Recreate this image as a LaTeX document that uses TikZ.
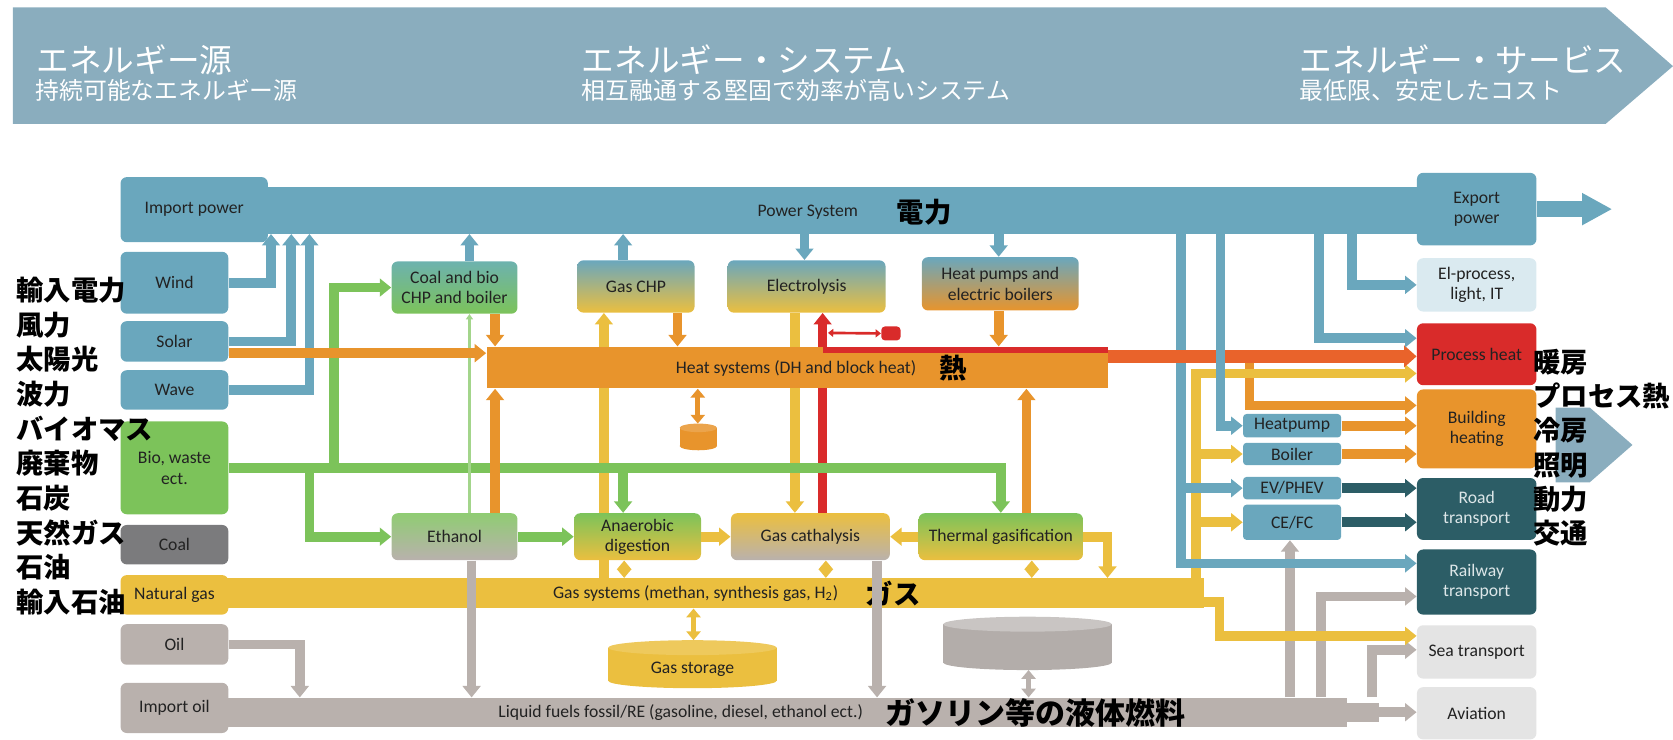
\documentclass[tikz,border=0pt]{standalone}
\usepackage{fontspec}
\setmainfont{Carlito}
\newfontfamily\jp{Noto Sans CJK JP}
\usetikzlibrary{arrows.meta}
\pgfdeclarelayer{bg}
\pgfsetlayers{bg,main}
\newcommand{\unitpx}{0.6048pt}
\definecolor{banner}{HTML}{8AADBE}
\definecolor{pblue}{HTML}{6AA7BD}
\definecolor{lblue}{HTML}{DAEAF0}
\definecolor{horange}{HTML}{E8942C}
\definecolor{gyellow}{HTML}{EBBF3F}
\definecolor{lgrey}{HTML}{B9B1AD}
\definecolor{coalgrey}{HTML}{7B7B7D}
\definecolor{bgreen}{HTML}{7CC35A}
\definecolor{hred}{HTML}{D92B2A}
\definecolor{rorange}{HTML}{E9632B}
\definecolor{dteal}{HTML}{2C5D66}
\definecolor{tealtxt}{HTML}{DCE6E8}
\definecolor{pale}{HTML}{E4E4E4}
\definecolor{txt}{HTML}{222222}
\definecolor{tealtop}{HTML}{6DB2AE}
\definecolor{ostgrey}{HTML}{B3ADAA}
\definecolor{osttop}{HTML}{C9C5C3}
\tikzset{
  lbl/.style={font=\fontsize{10}{11.5}\selectfont, text=txt, inner sep=0pt},
  jlbl/.style={font=\jp\bfseries\fontsize{15.5}{17}\selectfont, text=black, inner sep=0pt},
  btitle/.style={font=\jp\fontsize{18.5}{20}\selectfont, text=white, inner sep=0pt, anchor=west},
  bsub/.style={font=\jp\fontsize{13.5}{15}\selectfont, text=white, inner sep=0pt, anchor=west},
  bx/.style 2 args={minimum width=#1*\unitpx, minimum height=#2*\unitpx},
  box/.style={rounded corners=3.5pt, inner sep=0pt, align=center, font=\fontsize{10}{11.5}\selectfont, text=txt},
  sbox/.style={box, fill=pblue, rounded corners=2pt},
  sysbar/.style={inner sep=0pt},
  conn/.style={line width=5.5pt, -{Triangle[width=10pt,length=6.5pt]}},
  dbl/.style={line width=3pt, {Triangle[width=8pt,length=5pt]}-{Triangle[width=8pt,length=5pt]}},
  parr/.style={conn, draw=pblue},
  harr/.style={conn, draw=horange},
  garr/.style={conn, draw=gyellow},
  barr/.style={conn, draw=bgreen},
  larr/.style={conn, draw=lgrey},
  tarr/.style={conn, draw=dteal},
  rarr/.style={conn, draw=hred}
}

\begin{document}
\begin{tikzpicture}[x=0.6048pt, y=-0.6048pt]
  \useasboundingbox (0,0) rectangle (1568,693);

  % banner
  \fill[banner] (12,7) -- (1505,7) -- (1568,62) -- (1505,116) -- (12,116) -- cycle;
  \node[btitle] (src) at (34,56) {エネルギー源};
  \node[bsub] (srcsub) at (33,85) {持続可能なエネルギー源};
  \node[btitle] (sys) at (545,56) {エネルギー・システム};
  \node[bsub] (syssub) at (545,85) {相互融通する堅固で効率が高いシステム};
  \node[btitle] (srv) at (1218,56) {エネルギー・サービス};
  \node[bsub] (srvsub) at (1218,85) {最低限、安定したコスト};
  \fill[banner] (1458,382) -- (1490,382) -- (1530,417) -- (1490,452) -- (1458,452) -- cycle;

  % system bars
  \node[sysbar, fill=pblue, bx={1180}{44}] (pbar) at (830,197) {};
  \node[sysbar, fill=horange, bx={582}{39}] (hbar) at (747,344.5) {};
  \node[sysbar, fill=gyellow, bx={978}{28}] (gbar) at (639,556) {};
  \node[sysbar, fill=lgrey, bx={1112}{27}] (lbar) at (706,667.5) {};
  \fill[lgrey] (1262,659) rectangle (1292,677);
  \node[lbl] (pwrtxt) at (757,199) {Power System};
  \node[jlbl] (pwrjp) at (866,199) {電力};
  \node[lbl] (heattxt) at (746,345) {Heat systems (DH and block heat)};
  \node[jlbl] (heatjp) at (893,345) {熱};
  \node[lbl] (gastxt) at (652,556) {Gas systems (methan, synthesis gas, H\textsubscript{2})};
  \node[jlbl] (gasjp) at (837,556) {ガス};
  \node[lbl] (liqtxt) at (638,668) {Liquid fuels fossil/RE (gasoline, diesel, ethanol ect.)};
  \node[jlbl, font=\jp\bfseries\fontsize{17}{19}\selectfont, anchor=west] (liqjp) at (830,668) {ガソリン等の液体燃料};

  % sources
  \node[box, fill=pblue, bx={138}{61}] (imp) at (182,196.5) {Import power};
  \node[box, fill=pblue, bx={101}{58}] (wind) at (163.5,265) {Wind};
  \node[box, fill=pblue, bx={101}{38}] (solar) at (163.5,320) {Solar};
  \node[box, fill=pblue, bx={101}{37}] (wave) at (163.5,365.5) {Wave};
  \node[box, fill=bgreen, bx={101}{87}] (bio) at (163.5,438.5) {Bio, waste\\ect.};
  \node[box, fill=coalgrey, bx={101}{37}] (coal) at (163.5,510.5) {Coal};
  \node[box, fill=gyellow, bx={101}{37}] (ngas) at (163.5,557.5) {Natural gas};
  \node[box, fill=lgrey, bx={101}{38}] (oil) at (163.5,604) {Oil};
  \node[box, fill=lgrey, bx={101}{47}] (impoil) at (163.5,663.5) {Import oil};

  % conversion
  \node[box, top color=tealtop, bottom color=bgreen, bx={118}{49}] (chp) at (426,269.5) {Coal and bio\\CHP and boiler};
  \node[box, top color=pblue, bottom color=gyellow, bx={110}{49}] (gchp) at (596,268.5) {Gas CHP};
  \node[box, top color=pblue, bottom color=gyellow, bx={148}{49}] (elec) at (756,268.5) {Electrolysis};
  \node[box, top color=pblue, bottom color=horange, bx={147}{50}] (hpump) at (937.5,266) {Heat pumps and\\electric boilers};
  \node[box, top color=bgreen!85!white, bottom color=lgrey, bx={118}{44}] (eth) at (426,503) {Ethanol};
  \node[box, top color=bgreen, bottom color=gyellow, bx={119}{44}] (anae) at (597.5,503) {Anaerobic\\digestion};
  \node[box, top color=gyellow, bottom color=lgrey, bx={149}{44}] (gcat) at (759.5,503) {Gas cathalysis};
  \node[box, top color=bgreen, bottom color=gyellow, bx={154}{44}] (tgas) at (938,503) {Thermal gasification};

  % services
  \node[box, fill=pblue, bx={112}{68}] (expw) at (1384,196) {Export\\power};
  \node[box, fill=lblue, bx={112}{50}] (elproc) at (1384,267) {El-process,\\light, IT};
  \node[box, fill=hred, bx={112}{58}] (proch) at (1384,332) {Process heat};
  \node[box, fill=horange, bx={112}{74}] (bheat) at (1384,402) {Building\\heating};
  \node[box, fill=dteal, text=tealtxt, bx={112}{58}] (road) at (1384,477) {Road\\transport};
  \node[box, fill=dteal, text=tealtxt, bx={112}{61}] (rail) at (1384,545.5) {Railway\\transport};
  \node[box, fill=pale, bx={112}{50}] (sea) at (1384,611) {Sea transport};
  \node[box, fill=pale, bx={112}{49}] (avi) at (1384,668.5) {Aviation};
  \node[sbox, bx={92}{22}] (hp) at (1211,399) {Heatpump};
  \node[sbox, bx={92}{21}] (boil) at (1211,425.5) {Boiler};
  \node[sbox, bx={92}{21}] (ev) at (1211,457.5) {EV/PHEV};
  \node[sbox, bx={92}{33}] (cefc) at (1211,489.5) {CE/FC};

  % storages
  \fill[horange] (637,401) rectangle (672,418);
  \fill[horange] (654.5,418) ellipse [x radius=17.5, y radius=4];
  \fill[horange!85!white] (654.5,401) ellipse [x radius=17.5, y radius=4];
  \fill[gyellow] (570,607) rectangle (728,638);
  \fill[gyellow] (649,638) ellipse [x radius=79, y radius=7];
  \fill[gyellow!85!white] (649,607) ellipse [x radius=79, y radius=7];
  \node[lbl] (gst) at (649,627) {Gas storage};
  \fill[ostgrey] (884,585) rectangle (1042,621);
  \fill[ostgrey] (963,621) ellipse [x radius=79, y radius=7];
  \fill[osttop] (963,585) ellipse [x radius=79, y radius=7];
  \node[box, fill=hred, rounded corners=2pt, bx={18}{13}] (rst) at (835,312.5) {};
  \coordinate (hsttop) at (654,397);
  \coordinate (gsttop) at (650,600);
  \coordinate (ostbot) at (964,628);
  \coordinate (hbr) at (1171,334);
  \coordinate (rtap) at (776,312);
  \coordinate (expend) at (1511,196);

  % flows behind the heat bar
  \begin{pgfonlayer}{bg}
    \draw[garr] (gbar.north -| 566,0) -- (gchp.south -| 566,0);
    \draw[garr] (elec.south -| 745,0) -- (gcat.north -| 745,0);
    \draw[rarr] (gcat.north -| 771,0) -- (elec.south -| 771,0);
  \end{pgfonlayer}

  % liquid fuels
  \draw[larr] (oil.east) -| (lbar.north -| 281,0);
  \draw[larr] (eth.south -| 442,0) -- (lbar.north -| 442,0);
  \draw[larr] (gcat.south -| 822,0) -- (lbar.north -| 822,0);
  \draw[larr] (lbar.north -| 1209,0) -- (cefc.south -| 1209,0);
  \draw[larr] (lbar.north -| 1238,0) |- (rail.west |- 0,559);
  \draw[larr] (lbar.north -| 1286,0) |- (sea.west |- 0,609);
  \draw[larr] (lbar.east) -- (avi.west |- lbar.east);

  % biomass
  \draw[barr] (bio.east) -| (tgas.north -| 938,0);
  \draw[barr] (bio.east -| 313,0) |- (chp.west);
  \draw[barr] (bio.east -| 290,0) |- (eth.west);
  \draw[barr] (bio.east -| 584,0) -- (anae.north -| 584,0);
  \draw[barr] (eth.east) -- (anae.west);
  \draw[draw=bgreen!70!white, line width=1.2pt, -{Triangle[width=4pt,length=3pt]}] (eth.north -| 440,0) -- (chp.south -| 440,0);

  % power, left part
  \draw[parr] (wind.east) -| (pbar.south -| 254,0);
  \draw[parr] (solar.east) -| (pbar.south -| 273,0);
  \draw[parr] (wave.east) -| (pbar.south -| 290,0);
  \draw[parr] (chp.north -| 440,0) -- (pbar.south -| 440,0);
  \draw[parr] (gchp.north -| 584,0) -- (pbar.south -| 584,0);
  \draw[parr] (pbar.south -| 754,0) -- (elec.north -| 754,0);
  \draw[parr] (pbar.south -| 936,0) -- (hpump.north -| 936,0);

  % heat
  \draw[harr] (solar.east |- 0,331) -- (hbar.west |- 0,331);
  \draw[harr] (chp.south -| 464,0) -- (hbar.north -| 464,0);
  \draw[harr] (eth.north -| 464,0) -- (hbar.south -| 464,0);
  \draw[harr] (gchp.south -| 635,0) -- (hbar.north -| 635,0);
  \draw[harr] (hpump.south -| 936,0) -- (hbar.north -| 936,0);
  \draw[harr] (tgas.north -| 962,0) -- (hbar.south -| 962,0);
  \draw[harr] (hbr) |- (bheat.west |- 0,380);
  \draw[harr] (hp.east) -- (bheat.west |- hp.east);
  \draw[harr] (boil.east) -- (bheat.west |- boil.east);

  % gas
  \draw[garr] (anae.east) -- (gcat.west);
  \draw[garr] (tgas.west) -- (gcat.east);
  \draw[garr] (tgas.east) -| (gbar.north -| 1038,0);
  \draw[garr] (gbar.north -| 1121,0) |- (proch.west |- 0,350);
  \draw[garr] (boil.west -| 1121,0) -- (boil.west);
  \draw[garr] (cefc.west -| 1121,0) -- (cefc.west);
  \draw[garr] (gbar.east |- 0,564) -| (1143,596) -- (sea.west |- 0,596);

  % power, right part
  \draw[parr] (pbar.south -| 1107,0) |- (rail.west |- 0,528);
  \draw[parr] (ev.west -| 1107,0) -- (ev.west);
  \fill[hred] (771,325) rectangle (1038,331);
  \draw[conn, draw=rorange, line width=7pt, -{Triangle[width=12pt,length=7pt]}] (hbar.east |- 0,334) -- (proch.west |- 0,334);
  \draw[parr] (pbar.south -| 1144,0) |- (hp.west);
  \draw[parr] (pbar.south -| 1236,0) |- (proch.west |- 0,317);
  \draw[parr] (pbar.south -| 1267,0) |- (elproc.west);
  \draw[draw=pblue, line width=9pt, -{Triangle[width=17pt,length=17pt]}] (expw.east) -- (expend);

  % transport
  \draw[tarr] (ev.east) -- (road.west |- ev.east);
  \draw[tarr] (cefc.east) -- (road.west |- cefc.east);

  % storage links
  \draw[dbl, draw=horange] (hbar.south -| 654,0) -- (hsttop);
  \draw[dbl, draw=gyellow] (anae.south -| 585,0) -- (gbar.north -| 585,0);
  \draw[dbl, draw=gyellow] (gcat.south -| 774,0) -- (gbar.north -| 774,0);
  \draw[dbl, draw=gyellow] (tgas.south -| 967,0) -- (gbar.north -| 967,0);
  \draw[dbl, draw=gyellow] (gbar.south -| 650,0) -- (gsttop);
  \draw[dbl, draw=lgrey] (ostbot) -- (lbar.north -| 964,0);
  \draw[hred, line width=1.5pt, {Triangle[width=4.5pt,length=3pt]}-{Triangle[width=4.5pt,length=3pt]}] (rtap) -- (rst.west);

  % japanese captions
  \node[jlbl, anchor=west] (jl1) at (15,272) {輸入電力};
  \node[jlbl, anchor=west] (jl2) at (15,304.5) {風力};
  \node[jlbl, anchor=west] (jl3) at (15,337) {太陽光};
  \node[jlbl, anchor=west] (jl4) at (15,369.5) {波力};
  \node[jlbl, anchor=west] (jl5) at (15,402) {バイオマス};
  \node[jlbl, anchor=west] (jl6) at (15,434.5) {廃棄物};
  \node[jlbl, anchor=west] (jl7) at (15,467) {石炭};
  \node[jlbl, anchor=west] (jl8) at (15,499.5) {天然ガス};
  \node[jlbl, anchor=west] (jl9) at (15,532) {石油};
  \node[jlbl, anchor=west] (jl10) at (15,564.5) {輸入石油};
  \node[jlbl, anchor=west] (jr1) at (1437,339) {暖房};
  \node[jlbl, anchor=west] (jr2) at (1437,371) {プロセス熱};
  \node[jlbl, anchor=west] (jr3) at (1437,403) {冷房};
  \node[jlbl, anchor=west] (jr4) at (1437,436) {照明};
  \node[jlbl, anchor=west] (jr5) at (1437,468) {動力};
  \node[jlbl, anchor=west] (jr6) at (1437,500) {交通};
\end{tikzpicture}
\end{document}
